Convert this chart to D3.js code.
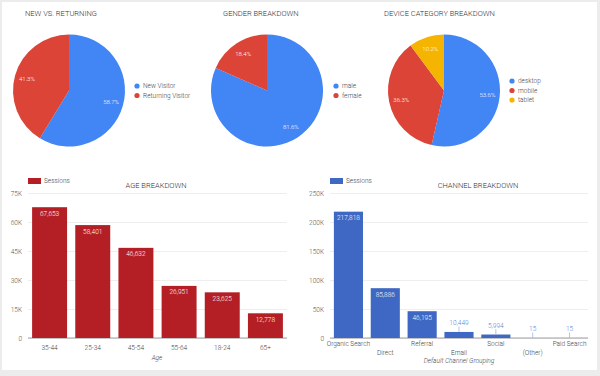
<!DOCTYPE html>
<html>
<head>
<meta charset="utf-8">
<script src="https://cdn.jsdelivr.net/npm/d3@7"></script>
<style>
  body { margin: 0; background: #ececec; }
  svg { display: block; font-family: Roboto, sans-serif; font-weight: 300; }
</style>
</head>
<body>
<svg id="chart" width="600" height="376"></svg>
<script>
// pies
var visitorLabels = ["New Visitor", "Returning Visitor"];
var visitorValues = [58.7, 41.3];
var genderLabels = ["male", "female"];
var genderValues = [81.6, 18.4];
var deviceLabels = ["desktop", "mobile", "tablet"];
var deviceValues = [53.6, 36.3, 10.2];

// bars
var ageGroups = ["35-44", "25-34", "45-54", "55-64", "18-24", "65+"];
var ageSessions = [67653, 58401, 46632, 26951, 23625, 12778];
var ageTicks = [0, 15000, 30000, 45000, 60000, 75000];
var channels = ["Organic Search", "Direct", "Referral", "Email", "Social", "(Other)", "Paid Search"];
var channelSessions = [217818, 85886, 46195, 10449, 5994, 15, 15];
var channelTicks = [0, 50000, 100000, 150000, 200000, 250000];

var pieColors = ["#4285f4", "#db4437", "#f4b400"];

var svg = d3.select("#chart");

// fond blanc du tableau de bord
svg.append("rect").attr("x", 2).attr("y", 2).attr("width", 595).attr("height", 368).attr("fill", "#fff");

var fmt = d3.format(",");
var kfmt = function(d){ return d == 0 ? "0" : (d / 1000) + "K"; };

function drawPie(cx, title, titleX, labels, values, legendX, legendY) {
  var r = 56, cy = 90.5;
  svg.append("text").attr("x", titleX).attr("y", 16)
    .style("font-size", "7.5px").style("fill", "#333")
    .text(title);

  var pie = d3.pie().sort(null).value(function(d){ return d; });
  var arcs = pie(values);
  var arc = d3.arc().innerRadius(0).outerRadius(r);
  var labelArc = d3.arc().innerRadius(r * 0.78).outerRadius(r * 0.78);
  var g = svg.append("g").attr("transform", "translate(" + cx + "," + cy + ")");
  g.selectAll("path").data(arcs).enter().append("path")
    .attr("d", arc)
    .attr("fill", function(d, i){ return pieColors[i]; });
  g.selectAll("text").data(arcs).enter().append("text")
    .attr("transform", function(d){ return "translate(" + labelArc.centroid(d) + ")"; })
    .attr("dy", "0.35em")
    .attr("text-anchor", "middle")
    .style("font-size", "6px").style("fill", "#fff")
    .text(function(d){ return d.data.toFixed(1) + "%"; });

  // légende
  var lg = svg.append("g").attr("transform", "translate(" + legendX + "," + legendY + ")");
  labels.forEach(function(l, i){
    lg.append("circle").attr("cx", 0).attr("cy", i * 9.5).attr("r", 2.6).attr("fill", pieColors[i]);
    lg.append("text").attr("x", 6).attr("y", i * 9.5).attr("dy", "0.35em")
      .style("font-size", "6.5px").style("fill", "#444").text(l);
  });
}

drawPie(69, "NEW VS. RETURNING", 25, visitorLabels, visitorValues, 137, 86);
drawPie(267, "GENDER BREAKDOWN", 223, genderLabels, genderValues, 336, 86);
drawPie(444, "DEVICE CATEGORY BREAKDOWN", 384, deviceLabels, deviceValues, 512, 81);

function drawBars(opt) {
  var x = d3.scaleBand().domain(opt.cats).range([opt.left, opt.right]).paddingInner(opt.pad).paddingOuter(opt.pad / 2);
  var y = d3.scaleLinear().domain([0, opt.ticks[opt.ticks.length - 1]]).range([338, 193]);

  // légende + titre
  svg.append("rect").attr("x", opt.left).attr("y", 178).attr("width", 13).attr("height", 6).attr("fill", opt.color);
  svg.append("text").attr("x", opt.left + 16).attr("y", 181).attr("dy", "0.35em")
    .style("font-size", "6.5px").style("fill", "#444").text("Sessions");
  svg.append("text").attr("x", opt.titleX).attr("y", 188).attr("text-anchor", "middle")
    .style("font-size", "7.5px").style("fill", "#333").text(opt.title);

  // grille + axe y
  var yAxis = svg.append("g").attr("transform", "translate(" + opt.left + ",0)")
    .call(d3.axisLeft(y).tickValues(opt.ticks).tickFormat(kfmt).tickSize(-(opt.right - opt.left)).tickPadding(6));
  yAxis.select(".domain").remove();
  yAxis.selectAll(".tick line").attr("stroke", "#eee");
  yAxis.selectAll(".tick text").style("font-size", "6.5px").style("fill", "#555")
    .style("font-family", "Roboto, sans-serif").style("font-weight", 300);

  svg.append("line").attr("x1", opt.left).attr("x2", opt.right).attr("y1", y(0)).attr("y2", y(0))
    .attr("stroke", "#888").attr("stroke-width", 0.8);

  svg.selectAll(null).data(opt.values).enter().append("rect")
    .attr("x", function(d, i){ return x(opt.cats[i]); })
    .attr("y", function(d){ return y(d); })
    .attr("width", x.bandwidth())
    .attr("height", function(d){ return y(0) - y(d); })
    .attr("fill", opt.color);

  // étiquettes de valeur
  opt.values.forEach(function(d, i){
    var cx = x(opt.cats[i]) + x.bandwidth() / 2;
    var h = y(0) - y(d);
    if (h > 12) {
      svg.append("text").attr("x", cx).attr("y", y(d) + 8.5).attr("text-anchor", "middle")
        .style("font-size", "6.5px").style("fill", "#fff").text(fmt(d));
    } else {
      svg.append("line").attr("x1", cx).attr("x2", cx).attr("y1", y(d) - 5.5).attr("y2", y(d))
        .attr("stroke", "#9fb6e6").attr("stroke-width", 0.8);
      svg.append("text").attr("x", cx).attr("y", y(d) - 7).attr("text-anchor", "middle")
        .style("font-size", "6.5px").style("fill", "#5b82d6").text(fmt(d));
    }
  });

  // étiquettes x
  opt.cats.forEach(function(c, i){
    var row = opt.stagger && i % 2 == 1 ? 1 : 0;
    svg.append("text").attr("x", x(c) + x.bandwidth() / 2).attr("y", opt.labelY + row * 9)
      .attr("text-anchor", "middle")
      .style("font-size", "6.5px").style("fill", "#444").text(c);
  });
  svg.append("text").attr("x", opt.axisX).attr("y", opt.axisY).attr("text-anchor", "middle")
    .style("font-size", "6.5px").style("font-style", "italic").style("fill", "#444").text(opt.axisTitle);
}

drawBars({cats: ageGroups, values: ageSessions, ticks: ageTicks, left: 28, right: 287, pad: 0.19,
  color: "#b41f26", title: "AGE BREAKDOWN", titleX: 156, labelY: 349.5, stagger: false,
  axisTitle: "Age", axisX: 157, axisY: 359.5});
drawBars({cats: channels, values: channelSessions, ticks: channelTicks, left: 330, right: 588, pad: 0.21,
  color: "#3e68c3", title: "CHANNEL BREAKDOWN", titleX: 478, labelY: 345.5, stagger: true,
  axisTitle: "Default Channel Grouping", axisX: 459, axisY: 362.5});
</script>
</body>
</html>
